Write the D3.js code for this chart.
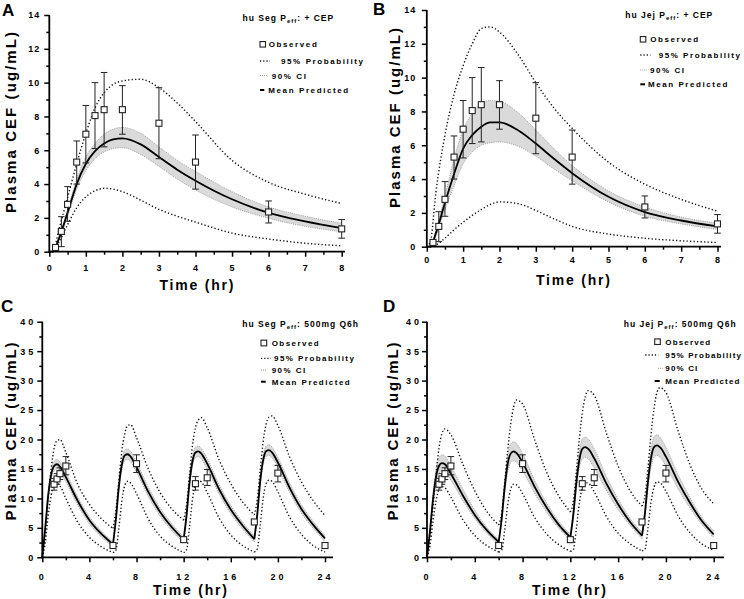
<!DOCTYPE html>
<html><head><meta charset="utf-8">
<script src="https://cdn.jsdelivr.net/npm/d3@7"></script>
<style>
body{margin:0;background:#fff}
svg{display:block}
text{font-family:"Liberation Sans",Arial,sans-serif;font-weight:bold;fill:#000}
</style>
</head><body>
<svg id="c" width="744" height="599"></svg>
<script>
// ---------- DATA ----------
// Single dose panels (A, B): prediction time grid (hr)
const tAB = [0,0.1,0.25,0.5,0.75,1,1.25,1.5,1.75,2,2.5,3,3.5,4,5,6,7,8];
const meanA  = [0,0,0.7,2.3,4.0,5.2,5.95,6.4,6.65,6.7,6.35,5.6,4.85,4.2,3.1,2.3,1.8,1.4];
const ciHiA  = [0,0,0.8,2.5,4.3,5.6,6.4,6.95,7.25,7.35,7.0,6.2,5.4,4.75,3.55,2.65,2.1,1.68];
const ciLoA  = [0,0,0.6,2.1,3.7,4.8,5.5,5.9,6.1,6.15,5.75,5.05,4.3,3.65,2.65,1.98,1.5,1.18];
const p95HiA = [0,0,1.2,3.2,5.2,7.0,8.5,9.4,9.9,10.1,10.2,9.7,8.8,7.7,5.4,4.1,3.4,2.85];
const p95LoA = [0,0,0.5,1.6,2.6,3.25,3.6,3.75,3.7,3.55,3.05,2.5,2.1,1.75,1.1,0.75,0.5,0.35];

const meanB  = [0,0,0.8,2.6,4.3,5.8,6.6,7.1,7.35,7.35,6.9,6.1,5.2,4.35,2.95,2.05,1.55,1.2];
const ciHiB  = [0,0,1.0,3.0,5.2,6.9,7.9,8.5,8.65,8.6,7.95,6.9,5.8,4.8,3.3,2.35,1.75,1.38];
const ciLoB  = [0,0,0.6,2.2,3.6,4.9,5.6,6.0,6.15,6.2,5.95,5.35,4.6,3.9,2.65,1.8,1.35,1.02];
const p95HiB = [0,0.3,3.2,6.6,9.0,10.7,12.0,12.9,13.0,12.7,11.4,9.7,8.2,7.0,5.0,3.7,2.8,2.1];
const p95LoB = [0,0,0.1,0.5,1.0,1.45,1.85,2.2,2.5,2.65,2.55,2.15,1.65,1.2,0.75,0.5,0.35,0.25];

// Observed (single dose)
const obsTAB  = [0.17,0.33,0.5,0.75,1,1.25,1.5,2,3,4,6,8];
const obsAB   = [0.25,1.2,2.8,5.3,6.95,8.05,8.4,8.4,7.6,5.3,2.35,1.35];
const obsLoAB = [null,0.3,1.8,4.0,5.25,6.1,6.2,6.95,5.5,3.7,1.7,0.8];
const obsHiAB = [null,2.07,3.85,6.55,8.65,10.0,10.6,9.82,9.7,6.9,3.0,1.9];

// Multiple dose panels (C, D): 500 mg every 6 h
const doseTimes = [0,6,12,18];
const cycleOffsets = [0,0.25,0.5,0.75,1,1.25,1.5,2,3,4,5,6];

const meanC = [
  [0,5,10.5,14,15.5,15.8,15.4,13.6,9.6,6.3,4.0,2.2],
  [2.2,6.5,12,15.7,17.3,17.5,17.1,15.3,11.1,7.7,5.1,3.0],
  [3.0,7.2,12.7,16.3,17.8,18.0,17.6,15.9,11.6,8.1,5.4,3.1],
  [3.1,7.3,12.9,16.5,18.0,18.2,17.8,16.1,11.8,8.2,5.5,3.2]];
const ciHiC = [
  [0,5.4,11.1,14.8,16.3,16.6,16.2,14.4,10.3,6.9,4.5,2.6],
  [2.6,7.0,12.7,16.5,18.2,18.4,18.0,16.2,11.9,8.4,5.7,3.5],
  [3.5,7.7,13.4,17.1,18.7,18.9,18.5,16.8,12.4,8.8,6.0,3.6],
  [3.6,7.8,13.6,17.3,18.9,19.1,18.7,17.0,12.6,8.9,6.1,3.7]];
const ciLoC = [
  [0,4.6,9.9,13.2,14.7,15.0,14.6,12.8,8.9,5.7,3.5,1.8],
  [1.8,6.0,11.3,14.9,16.4,16.6,16.2,14.4,10.3,7.0,4.5,2.5],
  [2.5,6.7,12.0,15.5,16.9,17.1,16.7,15.0,10.8,7.4,4.8,2.6],
  [2.6,6.8,12.2,15.7,17.1,17.3,16.9,15.2,11.0,7.5,4.9,2.7]];
const p95HiC = [
  [0,4,10,15,18.5,19.8,20.0,17.8,12.4,9.0,6.6,4.9],
  [4.9,8.0,13.0,18.0,21.0,22.4,22.5,20.3,15.0,11.0,8.2,6.3],
  [6.3,9.0,14.0,19.0,22.0,23.3,23.7,22.0,16.6,12.5,9.4,7.2],
  [7.2,9.8,14.8,19.6,22.6,23.8,24.0,22.4,17.0,12.8,9.6,7.1]];
const p95LoC = [
  [0,2.5,7,10.5,12.2,12.5,12.1,10,6,3.4,1.8,0.8],
  [0.8,1.2,5,9.5,12.2,12.9,12.6,10.8,6.5,3.6,1.9,0.8],
  [0.8,1.3,5.2,9.8,12.4,13.0,12.8,11.0,6.7,3.8,2.0,0.9],
  [0.9,1.4,5.4,10,12.5,13.1,12.9,11.1,6.8,3.9,2.0,0.9]];

const meanD = [
  [0,4.5,9.8,13.6,15.5,16.0,15.8,14.2,10.5,7.2,4.6,2.6],
  [2.6,6.5,11.8,15.8,17.6,18.0,17.7,16.1,12.0,8.5,5.6,3.4],
  [3.4,7.3,12.6,16.5,18.4,18.7,18.4,16.8,12.6,9.0,6.0,3.7],
  [3.7,7.6,12.9,16.8,18.7,19.0,18.7,17.1,12.9,9.3,6.2,3.9]];
const ciHiD = [
  [0,4.9,10.6,14.8,16.9,17.4,17.2,15.5,11.6,8.0,5.1,3.0],
  [3.0,7.1,12.9,17.2,19.2,19.6,19.3,17.6,13.1,9.3,6.2,3.9],
  [3.9,8.0,13.8,18.0,20.1,20.4,20.1,18.4,13.8,9.9,6.6,4.3],
  [4.3,8.3,14.1,18.4,20.4,20.8,20.4,18.7,14.1,10.2,6.8,4.5]];
const ciLoD = [
  [0,4.1,9.0,12.5,14.2,14.7,14.5,13.1,9.6,6.6,4.1,2.2],
  [2.2,5.9,10.7,14.4,16.0,16.4,16.1,14.7,10.9,7.7,5.0,2.9],
  [2.9,6.6,11.4,15.0,16.7,17.0,16.7,15.2,11.4,8.1,5.4,3.2],
  [3.2,6.9,11.7,15.2,17.0,17.3,17.0,15.5,11.7,8.4,5.6,3.3]];
const p95HiD = [
  [0,3.5,8.5,14,18.5,21,21.8,20.8,15.8,11.3,7.8,5.5],
  [5.5,7.5,12.5,18,22.5,25.5,26.7,26.0,20.0,14.5,10.5,7.7],
  [7.7,9.5,14.5,20,24.5,27.3,28.3,27.5,21.2,15.5,11.3,8.7],
  [8.7,10.5,15.2,20.8,25.2,28,28.8,28.0,21.6,15.8,11.6,9.1]];
const p95LoD = [
  [0,2,6,9.5,11.5,12,11.8,10.2,6.4,3.7,2.0,0.9],
  [0.9,1.2,4.5,8.8,11.5,12.4,12.3,10.8,6.8,4.0,2.2,1.0],
  [1.0,1.3,4.8,9.2,11.8,12.7,12.6,11.1,7.0,4.1,2.3,1.1],
  [1.1,1.4,5.0,9.3,11.9,12.8,12.7,11.2,7.1,4.2,2.3,1.2]];

// Observed (multiple dose)
const obsTCD  = [1,1.25,1.5,2,6,8,12,13,14,18,20,24];
const obsCD   = [12.4,13.3,14.2,15.5,2.0,15.9,3.0,12.5,13.5,6.0,14.3,2.0];
const obsLoCD = [11.4,12.4,13.2,14.0,null,14.4,null,11.4,12.2,null,12.8,null];
const obsHiCD = [13.4,14.2,15.2,17.1,null,17.4,null,13.7,14.9,null,15.6,null];

// Axis ticks
const xMajAB = [0,1,2,3,4,5,6,7,8];
const xMinAB = [0.5,1.5,2.5,3.5,4.5,5.5,6.5,7.5];
const yMajAB = [0,2,4,6,8,10,12,14];
const yMinAB = [1,3,5,7,9,11,13];
const xMajCD = [0,4,8,12,16,20,24];
const xMinCD = [2,6,10,14,18,22];
const yMajCD = [0,5,10,15,20,25,30,35,40];
const yMinCD = [2.5,7.5,12.5,17.5,22.5,27.5,32.5,37.5];

const legendLabels = ["Observed","95% Probability","90% CI","Mean Predicted"];
const yTitle = "Plasma CEF (ug/mL)";
const xTitle = "Time (hr)";

// ---------- BUILD ----------
const svg = d3.select('#c');
const zipAB = arr => [tAB.map((t,i)=>[t,arr[i]])];
const zipCD = arr => doseTimes.map((d,i)=>cycleOffsets.map((o,j)=>[d+o,arr[i][j]]));
const zipBand = (lo,hi,z) => { const L=z(lo), H=z(hi); return L.map((seg,i)=>seg.map((p,j)=>[p[0],p[1],H[i][j][1]])); };

const panels = [
 {letter:"A", lx:2, ly:16, title:["hu Seg P","eff",": + CEP"], tx:242.5, ty:21,
  xr:[49.3,341.7], xd:[0,8], xEnd:345, yr:[251.7,15], yd:[0,14],
  xMaj:xMajAB, xMin:xMinAB, yMaj:yMajAB, yMin:yMinAB, xPad:7.5, yPad:5, tickLS:1,
  mean:zipAB(meanA), band:zipBand(ciLoA,ciHiA,zipAB), hi:zipAB(p95HiA), lo:zipAB(p95LoA),
  obsT:obsTAB, obs:obsAB, oLo:obsLoAB, oHi:obsHiAB,
  ytx:11, yty:122.5, ytLen:181, xtx:196.5, xty:290, xtLen:74,
  leg:{ls:1.6, rows:[44.3,61,75.5,90], sx:[260,260,260,260], sw:[5.5,10,6.7,4.3], tx:[268.7,281,271.7,268.3]}},
 {letter:"B", lx:373, ly:15, title:["hu Jej P","eff",": + CEP"], tx:625.3, ty:18,
  xr:[426.8,717.5], xd:[0,8], xEnd:721, yr:[246.7,10], yd:[0,14],
  xMaj:xMajAB, xMin:xMinAB, yMaj:yMajAB, yMin:yMinAB, xPad:5, yPad:6.5, tickLS:1,
  mean:zipAB(meanB), band:zipBand(ciLoB,ciHiB,zipAB), hi:zipAB(p95HiB), lo:zipAB(p95LoB),
  obsT:obsTAB, obs:obsAB, oLo:obsLoAB, oHi:obsHiAB,
  ytx:395, yty:118, ytLen:180, xtx:573, xty:285, xtLen:74,
  leg:{ls:1.55, rows:[39.3,55,70,84.3], sx:[640.3,640.3,640.3,640.3], sw:[5.5,10,6.7,4.7], tx:[650.3,658.7,650,648]}},
 {letter:"C", lx:1, ly:312, title:["hu Seg P","eff",": 500mg Q6h"], tx:242.3, ty:327,
  xr:[42.3,325], xd:[0,24], xEnd:333, yr:[557.3,321.7], yd:[0,40],
  xMaj:xMajCD, xMin:xMinCD, yMaj:yMajCD, yMin:yMinCD, xPad:11.5, yPad:4, tickLS:3,
  mean:zipCD(meanC), band:zipBand(ciLoC,ciHiC,zipCD), hi:zipCD(p95HiC), lo:zipCD(p95LoC),
  obsT:obsTCD, obs:obsCD, oLo:obsLoCD, oHi:obsHiCD,
  ytx:10.5, yty:431.5, ytLen:178, xtx:190, xty:595, xtLen:74,
  leg:{ls:1.45, rows:[343,358.3,370,381.7], sx:[261,261,261,261], sw:[5.7,10,6,4.7], tx:[271.7,274,271.7,271.7]}},
 {letter:"D", lx:383, ly:312, title:["hu Jej P","eff",": 500mg Q6h"], tx:623.7, ty:327,
  xr:[427,713.7], xd:[0,24], xEnd:724, yr:[557.3,321.7], yd:[0,40],
  xMaj:xMajCD, xMin:xMinCD, yMaj:yMajCD, yMin:yMinCD, xPad:11.5, yPad:3, tickLS:3,
  mean:zipCD(meanD), band:zipBand(ciLoD,ciHiD,zipCD), hi:zipCD(p95HiD), lo:zipCD(p95LoD),
  obsT:obsTCD, obs:obsCD, oLo:obsLoCD, oHi:obsHiCD,
  ytx:393, yty:431.5, ytLen:178, xtx:569, xty:595, xtLen:74,
  leg:{ls:1.15, rows:[341.7,355,368.3,381], sx:[654.7,645.3,658,654.7], sw:[5.6,13,5.7,5], tx:[665.3,665.3,665.3,665.3]}}
];

panels.forEach(p => {
  const g = svg.append('g');
  const x = d3.scaleLinear().domain(p.xd).range(p.xr);
  const y = d3.scaleLinear().domain(p.yd).range(p.yr);
  const line = d3.line().x(d=>x(d[0])).y(d=>y(d[1])).curve(d3.curveMonotoneX);
  const area = d3.area().x(d=>x(d[0])).y0(d=>y(d[1])).y1(d=>y(d[2])).curve(d3.curveMonotoneX);

  // 90% CI band
  p.band.forEach(seg => {
    g.append('path').attr('d', area(seg)).attr('fill','#dadada').attr('stroke','none');
    g.append('path').attr('d', line(seg.map(d=>[d[0],d[1]]))).attr('fill','none')
      .attr('stroke','#8a8a8a').attr('stroke-width',0.8).attr('stroke-dasharray','1,1.2');
    g.append('path').attr('d', line(seg.map(d=>[d[0],d[2]]))).attr('fill','none')
      .attr('stroke','#8a8a8a').attr('stroke-width',0.8).attr('stroke-dasharray','1,1.2');
  });
  // 95% probability lines
  [p.hi, p.lo].forEach(segs => segs.forEach(seg => {
    g.append('path').attr('d', line(seg)).attr('fill','none')
      .attr('stroke','#111').attr('stroke-width',1.4).attr('stroke-dasharray','1.3,2.2');
  }));
  // mean predicted
  p.mean.forEach(seg => {
    g.append('path').attr('d', line(seg)).attr('fill','none')
      .attr('stroke','#000').attr('stroke-width',1.8).attr('stroke-linejoin','round');
  });

  // axes ticks
  const y0 = y(0), x0 = x(0);
  g.append('g').attr('transform',`translate(0,${y0})`)
    .call(d3.axisBottom(x).tickValues(p.xMaj).tickSize(5).tickSizeOuter(0).tickPadding(p.xPad).tickFormat(d3.format('d')));
  g.append('g').attr('transform',`translate(0,${y0})`)
    .call(d3.axisBottom(x).tickValues(p.xMin).tickSize(3).tickSizeOuter(0).tickFormat(''));
  const gy = g.append('g').attr('transform',`translate(${x0},0)`)
    .call(d3.axisLeft(y).tickValues(p.yMaj).tickSize(5).tickSizeOuter(0).tickPadding(p.yPad).tickFormat(d3.format('d')));
  g.append('g').attr('transform',`translate(${x0},0)`)
    .call(d3.axisLeft(y).tickValues(p.yMin).tickSize(3).tickSizeOuter(0).tickFormat(''));
  g.selectAll('.domain').remove();
  g.selectAll('.tick line').attr('stroke','#000').attr('stroke-width',1.5);
  g.selectAll('g').attr('font-family',null).attr('font-size',null);
  g.selectAll('.tick text').style('font-size','9px').style('letter-spacing',p.tickLS+'px');
  gy.selectAll('.tick text').attr('dx', p.tickLS+'px');
  // axis lines
  g.append('line').attr('x1',x0-0.75).attr('x2',p.xEnd).attr('y1',y0).attr('y2',y0).attr('stroke','#000').attr('stroke-width',1.8);
  g.append('line').attr('x1',x0).attr('x2',x0).attr('y1',y0+0.9).attr('y2',y(p.yd[1])).attr('stroke','#000').attr('stroke-width',1.8);

  // observed with error bars
  const cap = 3.3;
  p.obsT.forEach((t,i) => {
    if (p.oLo[i] != null) {
      const cx = x(t);
      g.append('line').attr('x1',cx).attr('x2',cx).attr('y1',y(p.oLo[i])).attr('y2',y(p.oHi[i])).attr('stroke','#222').attr('stroke-width',1);
      [p.oLo[i],p.oHi[i]].forEach(v => g.append('line').attr('x1',cx-cap).attr('x2',cx+cap).attr('y1',y(v)).attr('y2',y(v)).attr('stroke','#222').attr('stroke-width',1));
    }
  });
  const s = 6;
  p.obsT.forEach((t,i) => {
    g.append('rect').attr('x',x(t)-s/2).attr('y',y(p.obs[i])-s/2).attr('width',s).attr('height',s)
      .attr('fill','#fff').attr('stroke','#222').attr('stroke-width',1.1);
  });

  // panel letter
  svg.append('text').attr('x',p.lx).attr('y',p.ly).style('font-size','17px').text(p.letter);
  // title with subscript
  const tt = svg.append('text').attr('x',p.tx).attr('y',p.ty).style('font-size','8.5px').style('letter-spacing','1px');
  tt.append('tspan').text(p.title[0]);
  tt.append('tspan').attr('dy',2).style('font-size','6px').text(p.title[1]);
  tt.append('tspan').attr('dy',-2).text(p.title[2]);

  // legend
  const L = p.leg;
  svg.append('rect').attr('x',L.sx[0]).attr('y',L.rows[0]-L.sw[0]/2).attr('width',L.sw[0]).attr('height',L.sw[0])
    .attr('fill','#fff').attr('stroke','#222').attr('stroke-width',1.1);
  svg.append('line').attr('x1',L.sx[1]).attr('x2',L.sx[1]+L.sw[1]).attr('y1',L.rows[1]).attr('y2',L.rows[1])
    .attr('stroke','#111').attr('stroke-width',1.3).attr('stroke-dasharray','1.2,2');
  svg.append('line').attr('x1',L.sx[2]).attr('x2',L.sx[2]+L.sw[2]).attr('y1',L.rows[2]).attr('y2',L.rows[2])
    .attr('stroke','#999').attr('stroke-width',1).attr('stroke-dasharray','1,1');
  svg.append('line').attr('x1',L.sx[3]).attr('x2',L.sx[3]+L.sw[3]).attr('y1',L.rows[3]).attr('y2',L.rows[3])
    .attr('stroke','#000').attr('stroke-width',2);
  legendLabels.forEach((lab,i) => {
    svg.append('text').attr('x',L.tx[i]).attr('y',L.rows[i]+3).style('font-size','8px').style('letter-spacing',L.ls+'px').text(lab);
  });

  // axis titles
  svg.append('text').attr('transform',`translate(${p.ytx},${p.yty}) rotate(-90)`).attr('text-anchor','middle')
    .attr('dy','0.35em').style('font-size','15px').attr('textLength',p.ytLen).attr('lengthAdjust','spacing').text(yTitle);
  svg.append('text').attr('x',p.xtx).attr('y',p.xty).attr('text-anchor','middle')
    .style('font-size','14px').attr('textLength',p.xtLen).attr('lengthAdjust','spacing').text(xTitle);
});
</script>
</body></html>
